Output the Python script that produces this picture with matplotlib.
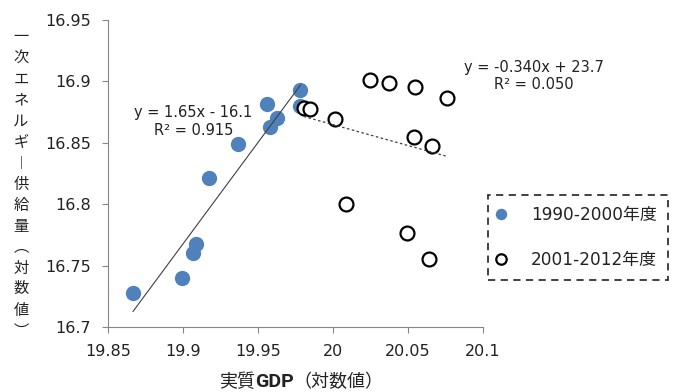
import numpy as np
import matplotlib.pyplot as plt

plt.rcParams['font.family'] = ['DejaVu Sans', 'Noto Sans CJK JP']

# log real GDP vs log primary energy supply
gdp_1990s = [19.8667, 19.8995, 19.9070, 19.9090, 19.9173, 19.9369,
             19.9560, 19.9578, 19.9627, 19.9782, 19.9777]
energy_1990s = [16.7279, 16.7397, 16.7605, 16.7678, 16.8210, 16.8493,
                16.8814, 16.8629, 16.8699, 16.8934, 16.8798]

gdp_2000s = [19.9804, 19.9849, 20.0015, 20.0244, 20.0375, 20.0547,
             20.0757, 20.0540, 20.0660, 20.0089, 20.0493, 20.0642]
energy_2000s = [16.8780, 16.8775, 16.8690, 16.9013, 16.8991, 16.8957,
                16.8866, 16.8547, 16.8476, 16.8000, 16.7763, 16.7551]

label_1990s = '1990-2000年度'
label_2000s = '2001-2012年度'
xlabel_parts = ['実質', 'GDP', '（対数値）']
ylabel = '一次エネルギ︱供給量︵対数値︶'

x_ticks = [19.85, 19.9, 19.95, 20, 20.05, 20.1]
x_tick_labels = ['19.85', '19.9', '19.95', '20', '20.05', '20.1']
y_ticks = [16.7, 16.75, 16.8, 16.85, 16.9, 16.95]
y_tick_labels = ['16.7', '16.75', '16.8', '16.85', '16.9', '16.95']


def fit(x, y):
    x = np.asarray(x)
    y = np.asarray(y)
    m, b = np.polyfit(x, y, 1)
    pred = m * x + b
    r2 = 1 - np.sum((y - pred) ** 2) / np.sum((y - y.mean()) ** 2)
    return m, b, r2


def eq_text(m, b, r2, mfmt):
    sign = '-' if b < 0 else '+'
    return f'y = {m:{mfmt}}x {sign} {abs(b):.1f}\nR² = {r2:.3f}'


fig = plt.figure(figsize=(6.76, 3.92), dpi=100)
ax = fig.add_axes([108 / 676, 1 - 327 / 392, 375 / 676, 307 / 392])

blue = '#4F81BD'
ax.plot(gdp_1990s, energy_1990s, 'o', color=blue, markersize=11,
        markeredgewidth=0, label=label_1990s, zorder=2)
ax.plot(gdp_2000s, energy_2000s, 'o', markerfacecolor='white',
        markeredgecolor='black', markeredgewidth=1.6, markersize=10,
        label=label_2000s, zorder=3)

# linear trend lines
m1, b1, r1 = fit(gdp_1990s, energy_1990s)
xs1 = np.array([min(gdp_1990s), max(gdp_1990s)])
ax.plot(xs1, m1 * xs1 + b1, color='#404040', lw=0.8, zorder=4)

m2, b2, r2 = fit(gdp_2000s, energy_2000s)
xs2 = np.array([min(gdp_2000s), max(gdp_2000s)])
ax.plot(xs2, m2 * xs2 + b2, color='#404040', lw=0.9, ls=(0, (2, 2)), zorder=4)

ax.text(19.9069, 16.8673, eq_text(m1, b1, r1, '.2f'), ha='center', va='center',
        fontsize=10.5, color='#222222', linespacing=1.2)
ax.text(20.1342, 16.9044, eq_text(m2, b2, r2, '.3f'), ha='center', va='center',
        fontsize=10.5, color='#222222', linespacing=1.2)

ax.set_xlim(19.85, 20.1)
ax.set_ylim(16.7, 16.95)
ax.set_xticks(x_ticks)
ax.set_xticklabels(x_tick_labels)
ax.set_yticks(y_ticks)
ax.set_yticklabels(y_tick_labels)
ax.tick_params(labelsize=11.5, colors='#222222', length=4.3, width=0.8,
               color='#868686')
ax.tick_params(axis='x', pad=8)
ax.tick_params(axis='y', pad=8)
for side in ['top', 'right']:
    ax.spines[side].set_visible(False)
for side in ['left', 'bottom']:
    ax.spines[side].set_color('#868686')
    ax.spines[side].set_linewidth(0.8)

# x label: kanji regular, GDP bold, laid out left to right on one baseline
renderer = fig.canvas.get_renderer()
x = 219 / 676
for part in xlabel_parts:
    bold = part == 'GDP'
    t = fig.text(x, 1 - 387 / 392, part, ha='left', va='baseline',
                 fontsize=14 if bold else 13, color='#222222',
                 fontweight='bold' if bold else 'normal',
                 family=['Roboto', 'Noto Sans CJK JP'] if bold
                 else ['DejaVu Sans', 'Noto Sans CJK JP'])
    x += t.get_window_extent(renderer).width / fig.bbox.width

fig.text(21 / 676, 1 - 184 / 392, '\n'.join(ylabel), ha='center', va='center',
         fontsize=11, color='#222222', linespacing=1.5)

leg = ax.legend(loc='upper left', bbox_to_anchor=(488 / 676, 1 - 195 / 392),
                bbox_transform=fig.transFigure, fontsize=12.2, markerscale=0.75,
                frameon=True, fancybox=False, labelspacing=1.6, handlelength=0.2,
                handletextpad=1.7, borderpad=0.65, borderaxespad=0)
frame = leg.get_frame()
frame.set_edgecolor('black')
frame.set_linestyle((0, (4, 3)))
frame.set_linewidth(1.3)
for t in leg.get_texts():
    t.set_color('#222222')

fig.savefig('out.png', dpi=100)
